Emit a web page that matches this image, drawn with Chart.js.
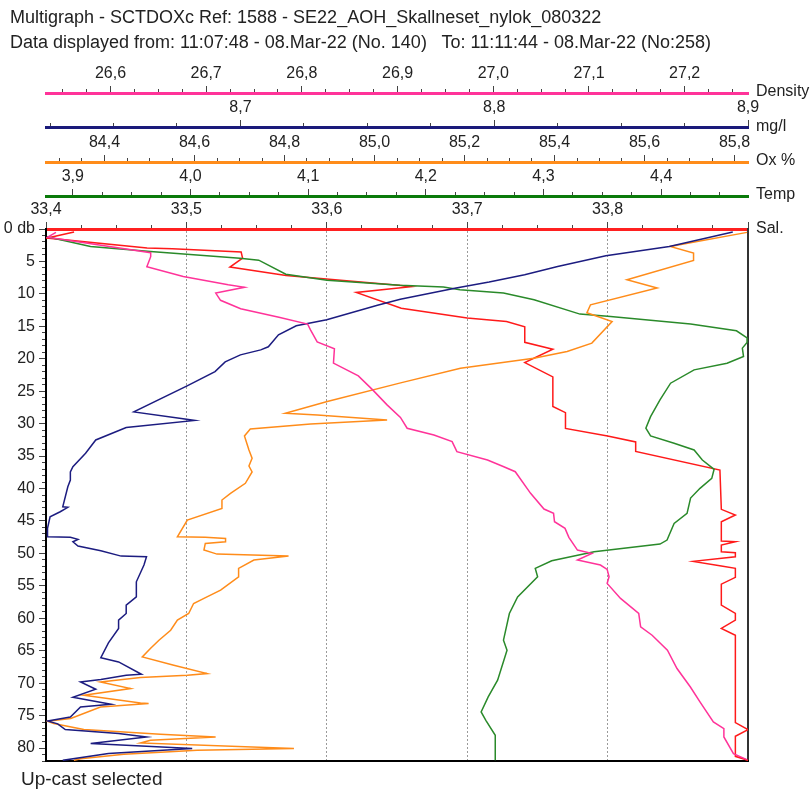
<!DOCTYPE html>
<html>
<head>
<meta charset="utf-8">
<script src="https://cdn.jsdelivr.net/npm/chart.js@4.4.1/dist/chart.umd.min.js"></script>
<style>
    body { margin: 0; background: #fff; font-family: 'Liberation Sans', Arial, sans-serif; color: #222; }
    #wrap { position: relative; width: 811px; height: 790px; }
    canvas { position: absolute; left: 0; top: 0; }
    .txt { position: absolute; font-size: 16px; line-height: 18px; white-space: pre; }
    .cab { font-size: 18px; line-height: 22px; }
</style>
</head>
<body>
<div id="wrap">
    <canvas id="grafica" width="811" height="790"></canvas>
    <div class="txt cab" style="left:10px;top:6px">Multigraph - SCTDOXc Ref: 1588 - SE22_AOH_Skallneset_nylok_080322</div>
    <div class="txt cab" style="left:10px;top:31px">Data displayed from: 11:07:48 - 08.Mar-22 (No. 140)   To: 11:11:44 - 08.Mar-22 (No:258)</div>
    <div class="txt" style="left:756px;top:82px">Density</div>
    <div class="txt" style="left:756px;top:117px">mg/l</div>
    <div class="txt" style="left:756px;top:151px">Ox %</div>
    <div class="txt" style="left:756px;top:185px">Temp</div>
    <div class="txt" style="left:756px;top:219px">Sal.</div>
    <div class="txt" style="left:21px;top:768px;font-size:19px;line-height:22px">Up-cast selected</div>
</div>
<script>
// Rangos de los ejes (eje superior por variable)
const salRange = [33.4, 33.9];
const tempRange = [3.8772, 4.4738];
const oxRange = [84.270, 85.830];
const mgRange = [8.6234, 8.9];
const densRange = [26.5326, 27.2662];
const depthRange = [0, 82];

// Salinidad
const salDepth = [0.46,1.39,2.93,3.04,3.55,4.48,5.86,7.16,8.70,8.90,9.21,9.78,12.22,13.73,14.26,15.08,17.47,18.52,20.59,22.79,27.35,28.30,30.74,31.90,32.82,34.29,37.15,43.21,44.09,45.12,48.10,48.21,48.72,49.75,49.91,50.52,51.23,51.96,52.31,53.70,54.74,57.98,59.26,60.29,61.57,62.61,76.08,77.16,78.19,81.28,81.90];
const salVal = [33.420,33.401,33.472,33.490,33.539,33.540,33.531,33.571,33.653,33.660,33.646,33.621,33.653,33.700,33.728,33.741,33.741,33.761,33.741,33.761,33.761,33.770,33.770,33.800,33.820,33.820,33.880,33.881,33.891,33.881,33.881,33.891,33.881,33.881,33.891,33.891,33.861,33.881,33.891,33.891,33.881,33.881,33.891,33.891,33.881,33.891,33.891,33.900,33.891,33.891,33.900];

// Temperatura
const tempDepth = [1.19,2.69,3.46,4.51,4.81,6.98,7.90,8.67,8.95,9.37,9.88,10.91,13.12,13.49,14.66,15.69,16.77,17.50,18.36,19.66,20.68,21.71,23.77,26.34,28.92,30.71,31.90,33.02,34.06,35.60,37.04,38.43,39.97,41.47,43.83,45.37,47.95,48.56,49.75,51.14,52.31,53.61,56.70,59.26,63.38,64.92,69.55,72.13,74.44,75.73,78.04,81.90];
const tempVal = [3.878,3.915,3.966,4.042,4.058,4.081,4.116,4.178,4.215,4.229,4.266,4.292,4.331,4.357,4.425,4.464,4.473,4.473,4.469,4.470,4.456,4.428,4.408,4.399,4.391,4.387,4.391,4.411,4.428,4.435,4.445,4.443,4.433,4.425,4.422,4.411,4.405,4.399,4.343,4.307,4.293,4.295,4.278,4.271,4.266,4.269,4.261,4.253,4.247,4.251,4.259,4.259];

// Oxigeno %
const oxDepth = [0.52,2.69,3.70,4.85,7.82,9.10,11.68,12.92,14.26,17.59,18.89,19.91,21.45,23.72,26.60,28.40,28.66,29.43,30.05,30.82,31.90,34.06,35.34,36.53,37.45,39.20,40.74,41.77,43.06,44.86,47.44,47.53,47.69,48.21,48.46,49.49,50.11,50.42,51.03,52.31,53.61,55.66,56.94,57.72,59.26,60.29,61.84,63.38,64.66,65.96,67.24,68.52,68.78,69.14,69.81,70.83,71.87,73.06,73.15,73.67,75.46,75.88,76.23,77.16,77.89,78.30,78.81,79.23,80.09,80.36,80.97,81.64,81.90];
const oxVal = [85.828,85.657,85.709,85.709,85.561,85.628,85.480,85.472,85.528,85.483,85.428,85.354,85.191,85.058,84.895,84.802,84.873,85.028,84.858,84.724,84.711,84.721,84.728,84.721,84.728,84.713,84.680,84.661,84.661,84.584,84.562,84.624,84.669,84.669,84.624,84.621,84.650,84.809,84.732,84.698,84.698,84.658,84.621,84.598,84.587,84.562,84.547,84.521,84.502,84.484,84.554,84.628,84.584,84.480,84.391,84.458,84.354,84.480,84.498,84.391,84.325,84.273,84.287,84.354,84.524,84.647,84.502,84.480,84.821,84.606,84.443,84.347,84.332];

// Oxigeno mg/l
const mgDepth = [0.46,2.69,4.12,5.77,7.05,8.18,9.10,10.83,11.76,14.00,14.92,16.31,18.16,18.63,19.40,20.48,21.98,24.18,28.19,29.17,29.51,30.59,32.52,34.57,36.64,37.45,38.69,39.72,42.81,42.90,43.58,44.35,46.14,47.44,47.53,47.84,48.21,48.87,49.60,50.42,50.52,51.80,54.38,56.70,57.98,59.26,60.29,61.57,63.80,66.08,66.73,68.63,68.78,69.44,69.81,70.94,72.18,73.26,73.67,75.22,75.83,76.27,77.16,77.78,78.30,79.32,80.09,80.86,81.90];
const mgVal = [8.894,8.869,8.844,8.825,8.812,8.798,8.785,8.763,8.754,8.734,8.722,8.715,8.711,8.708,8.700,8.694,8.690,8.679,8.658,8.676,8.682,8.655,8.643,8.639,8.634,8.633,8.633,8.632,8.630,8.632,8.629,8.625,8.624,8.624,8.633,8.636,8.634,8.636,8.645,8.653,8.663,8.662,8.659,8.659,8.655,8.655,8.652,8.652,8.648,8.645,8.652,8.661,8.655,8.645,8.637,8.643,8.634,8.649,8.637,8.633,8.624,8.628,8.631,8.652,8.663,8.641,8.681,8.648,8.630];

// Densidad
const densDepth = [0.52,1.27,3.66,4.27,5.82,7.31,8.60,8.98,9.88,10.99,12.30,13.61,14.66,15.54,17.39,18.47,20.68,22.64,24.80,27.11,29.04,30.71,31.74,32.78,34.32,35.60,36.64,37.41,40.74,43.16,43.83,45.12,46.14,47.53,49.49,50.00,51.03,51.80,52.47,53.61,54.63,56.94,59.26,61.33,62.61,64.92,67.75,70.59,72.90,75.99,77.01,78.30,80.86,81.79];
const densVal = [26.543,26.534,26.642,26.642,26.638,26.676,26.723,26.740,26.710,26.715,26.736,26.776,26.806,26.809,26.816,26.834,26.833,26.859,26.874,26.889,26.903,26.910,26.938,26.957,26.962,26.994,27.011,27.023,27.039,27.053,27.063,27.064,27.075,27.079,27.088,27.103,27.088,27.112,27.119,27.121,27.119,27.133,27.152,27.154,27.166,27.182,27.192,27.206,27.216,27.230,27.241,27.241,27.251,27.265];

const FONT = { family: "'Liberation Sans', Arial, sans-serif", size: 16 };
const MINOR_DASH = [0, 3, 4, 100];

function puntos(vals, depths) {
    return vals.map((v, i) => ({ x: v, y: depths[i] }));
}

function esMayor(v, paso) {
    return Math.abs(v / paso - Math.round(v / paso)) < 1e-6;
}

// Eje superior con marcas menores y etiquetas con coma decimal
function ejeSuperior(rango, menor, mayor, color, peso, alto, ocultar) {
    return {
        type: 'linear', axis: 'x', position: 'top', weight: peso,
        min: rango[0], max: rango[1],
        afterFit: s => { s.height = alto; },
        border: { color: color, width: 3 },
        grid: {
            drawOnChartArea: false, tickLength: 7, tickColor: '#444', tickWidth: 1,
            tickBorderDash: ctx => esMayor(ctx.tick.value, mayor) ? [] : MINOR_DASH
        },
        ticks: {
            stepSize: menor, includeBounds: false, autoSkip: false, maxRotation: 0,
            padding: 3, color: '#222', font: FONT,
            callback: v => {
                if (!esMayor(v, mayor)) return '';
                if (ocultar && Math.abs(v - ocultar) < 1e-6) return '';
                return v.toFixed(1).replace('.', ',');
            }
        }
    };
}

const salEje = ejeSuperior(salRange, 0.025, 0.1, '#ff2020', 1, 33, 33.9);
salEje.grid.drawOnChartArea = true;
salEje.grid.color = ctx => {
    const v = ctx.tick ? ctx.tick.value : 0;
    if (v <= salRange[0] + 1e-6 || v >= salRange[1] - 1e-6) return 'rgba(0,0,0,0)';
    return esMayor(v, 0.1) ? '#9a9a9a' : 'rgba(0,0,0,0)';
};
salEje.border.dash = [2, 2];

const linea = (label, vals, depths, color, eje) => ({
    label: label,
    data: puntos(vals, depths),
    xAxisID: eje, yAxisID: 'y',
    showLine: true, borderColor: color, borderWidth: 1.5,
    pointRadius: 0, tension: 0
});

new Chart(document.getElementById('grafica'), {
    type: 'scatter',
    data: {
        datasets: [
            linea('Density', densVal, densDepth, '#ff3399', 'dens'),
            linea('mg/l', mgVal, mgDepth, '#1c1c80', 'mg'),
            linea('Ox %', oxVal, oxDepth, '#ff8c1a', 'ox'),
            linea('Temp', tempVal, tempDepth, '#2a8a2a', 'temp'),
            linea('Sal.', salVal, salDepth, '#ff1a1a', 'sal')
        ]
    },
    options: {
        responsive: false,
        animation: false,
        events: [],
        layout: { padding: { left: 0, top: 59, right: 63, bottom: 29 } },
        plugins: { legend: { display: false }, tooltip: { enabled: false } },
        scales: {
            sal: salEje,
            temp: ejeSuperior(tempRange, 0.025, 0.1, '#0a7a0a', 2, 34),
            ox: ejeSuperior(oxRange, 0.05, 0.2, '#ff8c1a', 3, 35),
            mg: ejeSuperior(mgRange, 0.025, 0.1, '#1a1a7a', 4, 34),
            dens: ejeSuperior(densRange, 0.025, 0.1, '#ff3399', 5, 34),
            y: {
                type: 'linear', position: 'left', reverse: true,
                min: depthRange[0], max: depthRange[1],
                afterFit: s => { s.width = 46; },
                border: { color: '#000', width: 2 },
                grid: {
                    drawOnChartArea: false, tickLength: 7, tickColor: '#444',
                    tickBorderDash: ctx => (ctx.tick.value % 5 === 0) ? [] : MINOR_DASH
                },
                ticks: {
                    stepSize: 1, autoSkip: false, padding: 4, color: '#222', font: FONT,
                    callback: v => v % 5 === 0 ? (v === 0 ? '0 db' : String(v)) : ''
                }
            },
            yr: {
                type: 'linear', axis: 'y', position: 'right', min: 0, max: 1,
                afterFit: s => { s.width = 0; },
                border: { color: '#333', width: 2 },
                grid: { display: false }, ticks: { display: false }
            },
            xb: {
                type: 'linear', axis: 'x', position: 'bottom', min: 0, max: 1,
                afterFit: s => { s.height = 0; },
                border: { color: '#000', width: 2 },
                grid: { display: false }, ticks: { display: false }
            }
        }
    }
});
</script>
</body>
</html>
